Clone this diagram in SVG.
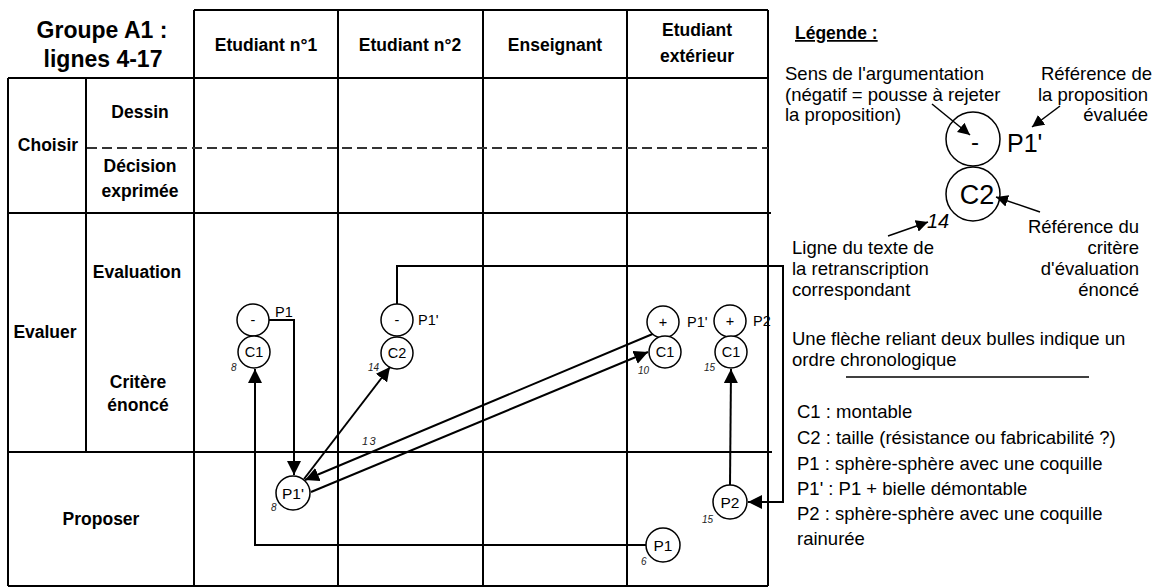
<svg xmlns="http://www.w3.org/2000/svg" width="1155" height="588" viewBox="0 0 1155 588">
<defs>
<style>
text{font-family:"Liberation Sans",Arial,sans-serif;fill:#000}
.t{font-weight:bold;font-size:23px;text-anchor:middle}
.h{font-weight:bold;font-size:17.5px;text-anchor:middle}
.grid{stroke:#000;stroke-width:2;fill:none}
.dash{stroke:#333;stroke-width:2;stroke-dasharray:10 5;fill:none}
.bub{fill:#fff;stroke:#000;stroke-width:1.5}
.bt{font-size:14.5px;text-anchor:middle}
.pt{font-size:15.5px;text-anchor:middle}
.lbl{font-size:14.5px}
.num{font-size:10px;font-style:italic;fill:#222}
.con{stroke:#000;stroke-width:2;fill:none}
.leg{font-size:18.5px}
.legr{font-size:18.5px;text-anchor:end}
.la{stroke:#000;stroke-width:1.5;fill:none}
</style>
<marker id="arr" markerUnits="userSpaceOnUse" markerWidth="14" markerHeight="14" refX="14" refY="7" orient="auto" viewBox="0 0 14 14"><path d="M0,0 L14,7 L0,14 z" fill="#000"/></marker>
<marker id="arrs" markerUnits="userSpaceOnUse" markerWidth="12" markerHeight="12" refX="12" refY="6" orient="auto" viewBox="0 0 12 12"><path d="M0,0 L12,6 L0,12 z" fill="#000"/></marker>
</defs>
<rect x="0" y="0" width="1155" height="588" fill="#fff"/>

<g id="title">
<text class="t" x="102" y="38">Groupe A1 :</text>
<text class="t" x="103" y="67">lignes 4-17</text>
</g>

<g id="grid">
<path class="grid" d="M194,10 H768 M8,78 H768 M8,213 H771 M8,452 H772 M8,586 H768 M8,78 V586 M86,78 V452 M194,10 V586 M338,10 V586 M483,10 V586 M627,10 V586 M768,10 V586"/>
<path class="dash" d="M87,148 H768"/>
</g>

<g id="headers">
<text class="h" x="266" y="51">Etudiant n°1</text>
<text class="h" x="410" y="51">Etudiant n°2</text>
<text class="h" x="555" y="51">Enseignant</text>
<text class="h" x="697" y="36">Etudiant</text>
<text class="h" x="697" y="62">extérieur</text>
</g>

<g id="rows">
<text class="h" x="140" y="118">Dessin</text>
<text class="h" x="48" y="151">Choisir</text>
<text class="h" x="140" y="172">Décision</text>
<text class="h" x="140" y="197">exprimée</text>
<text class="h" x="137" y="278">Evaluation</text>
<text class="h" x="45" y="338">Evaluer</text>
<text class="h" x="138" y="388">Critère</text>
<text class="h" x="138" y="411">énoncé</text>
<text class="h" x="101" y="525">Proposer</text>
</g>

<g id="connectors">
<path class="con" d="M269,320 H294 V475" marker-end="url(#arr)"/>
<path class="con" d="M304,479 L390,367" marker-end="url(#arr)"/>
<path class="con" d="M655,333 L305,480" marker-end="url(#arr)"/>
<path class="con" d="M311,492 L648,352" marker-end="url(#arr)"/>
<path class="con" d="M646,545 H255 V369" marker-end="url(#arr)"/>
<path class="con" d="M730,485 L731,369" marker-end="url(#arr)"/>
<path class="con" d="M397,304 V266 H783 V502 H748" marker-end="url(#arr)"/>
<text class="num" x="362" y="445" style="font-size:11px;letter-spacing:1.5px">13</text>
</g>

<g id="node-e1-eval">
<circle class="bub" cx="253" cy="320" r="16"/>
<text class="bt" x="253" y="325">-</text>
<circle class="bub" cx="254" cy="352" r="16"/>
<text class="bt" x="254" y="357">C1</text>
<text class="lbl" x="275" y="317">P1</text>
<text class="num" x="231" y="371">8</text>
</g>

<g id="node-e2-eval">
<circle class="bub" cx="397" cy="320" r="16"/>
<text class="bt" x="397" y="325">-</text>
<circle class="bub" cx="397" cy="353" r="16"/>
<text class="bt" x="397" y="358">C2</text>
<text class="lbl" x="418" y="325">P1'</text>
<text class="num" x="368" y="371">14</text>
</g>

<g id="node-ext-eval-1">
<circle class="bub" cx="663" cy="322" r="16"/>
<text class="bt" x="663" y="327">+</text>
<circle class="bub" cx="665" cy="352" r="16"/>
<text class="bt" x="665" y="357">C1</text>
<text class="lbl" x="687" y="327">P1'</text>
<text class="num" x="638" y="374">10</text>
</g>

<g id="node-ext-eval-2">
<circle class="bub" cx="730" cy="321" r="16"/>
<text class="bt" x="730" y="326">+</text>
<circle class="bub" cx="731" cy="352" r="16"/>
<text class="bt" x="731" y="357">C1</text>
<text class="lbl" x="753" y="326">P2</text>
<text class="num" x="704" y="371">15</text>
</g>

<g id="node-e1-prop">
<circle class="bub" cx="293" cy="493" r="17"/>
<text class="pt" x="293" y="498.5">P1'</text>
<text class="num" x="271" y="511">8</text>
</g>

<g id="node-ext-prop-p2">
<circle class="bub" cx="730" cy="502" r="17"/>
<text class="pt" x="730" y="507.5">P2</text>
<text class="num" x="702" y="523">15</text>
</g>

<g id="node-ext-prop-p1">
<circle class="bub" cx="663" cy="545" r="17"/>
<text class="pt" x="663" y="550.5">P1</text>
<text class="num" x="641" y="565">6</text>
</g>

<g id="legend">
<text x="795" y="39" style="font-weight:bold;font-size:17.5px;text-decoration:underline">Légende :</text>
<text class="leg" x="785" y="80">Sens de l'argumentation</text>
<text class="leg" x="785" y="100.5">(négatif = pousse à rejeter</text>
<text class="leg" x="785" y="121">la proposition)</text>
<text class="legr" x="1152" y="80">Référence de</text>
<text class="legr" x="1148" y="100.5">la proposition</text>
<text class="legr" x="1148" y="121">évaluée</text>
<circle cx="973" cy="139" r="27" fill="#fff" stroke="#000" stroke-width="1.5"/>
<text x="975" y="150" style="font-size:24px;text-anchor:middle">-</text>
<text x="1007" y="152" style="font-size:25px">P1'</text>
<circle cx="973" cy="194" r="27" fill="#fff" stroke="#000" stroke-width="1.5"/>
<text x="977" y="204" style="font-size:27px;text-anchor:middle">C2</text>
<text x="927" y="228" style="font-size:20px;font-style:italic">14</text>
<path class="la" d="M932,104 L970,135" marker-end="url(#arrs)"/>
<path class="la" d="M1060,106 L1032,127" marker-end="url(#arrs)"/>
<path class="la" d="M1040,212 L996,197" marker-end="url(#arrs)"/>
<path class="la" d="M888,236 L928,222" marker-end="url(#arrs)"/>
<text class="leg" x="792" y="254">Ligne du texte de</text>
<text class="leg" x="792" y="275">la retranscription</text>
<text class="leg" x="792" y="296">correspondant</text>
<text class="legr" x="1139" y="233">Référence du</text>
<text class="legr" x="1139" y="254">critère</text>
<text class="legr" x="1139" y="275">d'évaluation</text>
<text class="legr" x="1139" y="296">énoncé</text>
<text class="leg" x="792" y="345">Une flèche reliant deux bulles indique un</text>
<text class="leg" x="792" y="366">ordre chronologique</text>
<path d="M846,377 H1089" stroke="#000" stroke-width="1.5"/>
<text class="leg" x="797" y="418">C1 : montable</text>
<text class="leg" x="797" y="444">C2 : taille (résistance ou fabricabilité ?)</text>
<text class="leg" x="797" y="470">P1 : sphère-sphère avec une coquille</text>
<text class="leg" x="797" y="495">P1' : P1 + bielle démontable</text>
<text class="leg" x="797" y="520">P2 : sphère-sphère avec une coquille</text>
<text class="leg" x="797" y="545">rainurée</text>
</g>
</svg>
